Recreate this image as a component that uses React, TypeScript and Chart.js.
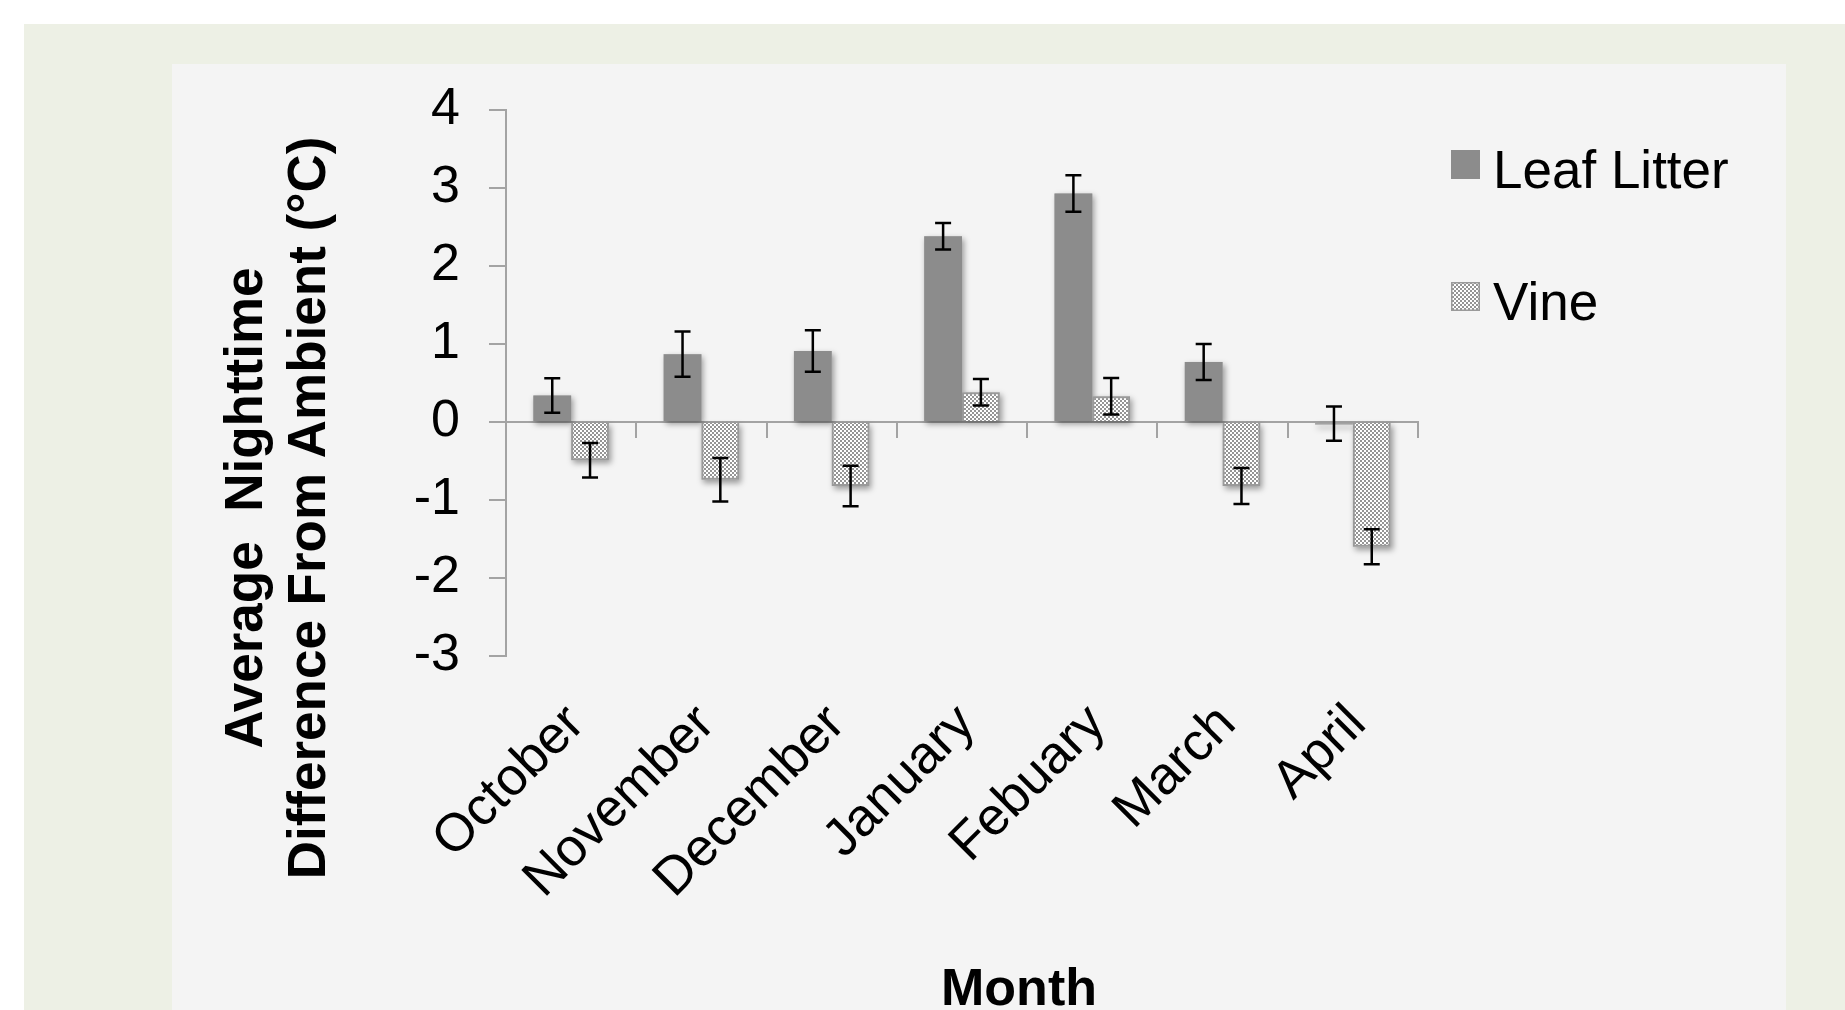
import React, { useEffect, useRef } from 'react';
import { Chart, registerables } from 'chart.js';

Chart.register(...registerables);

// ---- data ----
const months = ['October', 'November', 'December', 'January', 'Febuary', 'March', 'April'];
const leafLitter = [0.34, 0.87, 0.91, 2.38, 2.93, 0.77, -0.02];
const leafLitterErr = [0.22, 0.29, 0.265, 0.17, 0.235, 0.23, 0.22];
const vine = [-0.49, -0.74, -0.82, 0.38, 0.33, -0.82, -1.6];
const vineErr = [0.22, 0.28, 0.26, 0.17, 0.235, 0.23, 0.225];
const seriesNames = ['Leaf Litter', 'Vine'];
const yMin = -3;
const yMax = 4;
const yStep = 1;
const yTitleLines = ['Average  Nighttime', 'Difference From Ambient (°C)'];
const xTitle = 'Month';

const FONT = '"Liberation Sans", Arial, Helvetica, sans-serif';
const AXIS = '#a3a3a3';
const LEAF = '#8c8c8c';

function makeChecker(): CanvasPattern | string {
  const c = document.createElement('canvas');
  c.width = 4;
  c.height = 4;
  const g = c.getContext('2d');
  if (!g) return '#cfcfcf';
  g.fillStyle = '#ffffff';
  g.fillRect(0, 0, 4, 4);
  g.fillStyle = '#959595';
  g.fillRect(0, 0, 2, 2);
  g.fillRect(2, 2, 2, 2);
  return g.createPattern(c, 'repeat') || '#cfcfcf';
}

const barShadow = {
  id: 'barShadow',
  beforeDatasetsDraw(chart: any) {
    const ctx = chart.ctx;
    ctx.save();
    ctx.shadowColor = 'rgba(0,0,0,0.38)';
    ctx.shadowBlur = 6;
    ctx.shadowOffsetX = 2;
    ctx.shadowOffsetY = 3;
    ctx.fillStyle = '#bbbbbb';
    chart.data.datasets.forEach((_ds: any, i: number) => {
      const meta = chart.getDatasetMeta(i);
      meta.data.forEach((bar: any) => {
        const { x, y, base, width } = bar.getProps(['x', 'y', 'base', 'width'], true);
        const top = Math.min(y, base);
        const h = Math.max(Math.abs(base - y), 2);
        ctx.fillRect(x - width / 2, top, width, h);
      });
    });
    ctx.restore();
  },
};

const errorBars = {
  id: 'errorBars',
  afterDatasetsDraw(chart: any) {
    const ctx = chart.ctx;
    const ys = chart.scales.y;
    const errs = [leafLitterErr, vineErr];
    ctx.save();
    ctx.strokeStyle = '#000000';
    ctx.lineWidth = 2.5;
    chart.data.datasets.forEach((ds: any, i: number) => {
      const meta = chart.getDatasetMeta(i);
      meta.data.forEach((bar: any, j: number) => {
        const v = ds.data[j];
        const e = errs[i][j];
        const x = bar.x;
        const y1 = ys.getPixelForValue(v + e);
        const y2 = ys.getPixelForValue(v - e);
        ctx.beginPath();
        ctx.moveTo(x, y1);
        ctx.lineTo(x, y2);
        ctx.moveTo(x - 8, y1);
        ctx.lineTo(x + 8, y1);
        ctx.moveTo(x - 8, y2);
        ctx.lineTo(x + 8, y2);
        ctx.stroke();
      });
    });
    ctx.restore();
  },
};

const sideLegend = {
  id: 'sideLegend',
  afterDraw(chart: any) {
    const ctx = chart.ctx;
    const area = chart.chartArea;
    ctx.save();
    ctx.font = `53px ${FONT}`;
    ctx.textAlign = 'left';
    ctx.textBaseline = 'alphabetic';
    chart.data.datasets.forEach((ds: any, i: number) => {
      const bx = area.right + 33;
      const by = area.top + 40 + i * 132;
      ctx.fillStyle = ds.backgroundColor;
      ctx.fillRect(bx, by, 29, 29);
      if (ds.borderWidth) {
        ctx.strokeStyle = ds.borderColor;
        ctx.lineWidth = 1.5;
        ctx.strokeRect(bx + 0.75, by + 0.75, 27.5, 27.5);
      }
      ctx.fillStyle = '#000000';
      ctx.fillText(ds.label, bx + 42, by + 38);
    });
    ctx.restore();
  },
};

const axisTitles = {
  id: 'axisTitles',
  afterDraw(chart: any) {
    const ctx = chart.ctx;
    const area = chart.chartArea;
    ctx.save();
    ctx.fillStyle = '#000000';
    ctx.font = `bold 53px ${FONT}`;
    ctx.textAlign = 'center';
    ctx.textBaseline = 'alphabetic';
    const cy = area.top + 398;
    yTitleLines.forEach((line, k) => {
      ctx.save();
      ctx.translate(area.left - 244 + k * 63, cy);
      ctx.rotate(-Math.PI / 2);
      ctx.fillText(line, 0, 0);
      ctx.restore();
    });
    ctx.font = `bold 52px ${FONT}`;
    ctx.fillText(xTitle, area.left + 513, area.bottom + 349);
    ctx.restore();
  },
};

export default function App() {
  const ref = useRef<HTMLCanvasElement | null>(null);

  useEffect(() => {
    if (!ref.current) return;
    Chart.defaults.font.family = FONT;
    const pattern = makeChecker();
    const chart = new Chart(ref.current, {
      type: 'bar',
      data: {
        labels: months,
        datasets: [
          {
            label: seriesNames[0],
            data: leafLitter,
            backgroundColor: LEAF,
            borderWidth: 0,
            categoryPercentage: 0.58,
            barPercentage: 1,
          },
          {
            label: seriesNames[1],
            data: vine,
            backgroundColor: pattern as any,
            borderColor: '#9a9a9a',
            borderWidth: 2,
            categoryPercentage: 0.58,
            barPercentage: 1,
          },
        ],
      },
      options: {
        responsive: false,
        animation: false,
        events: [],
        layout: { padding: { top: 110, left: 0, right: 427, bottom: 0 } },
        plugins: {
          legend: { display: false },
          tooltip: { enabled: false },
          title: { display: false },
        },
        scales: {
          x: {
            position: 'bottom',
            grid: { display: false, drawTicks: false },
            border: { display: false },
            ticks: {
              font: { size: 53 },
              color: '#000000',
              minRotation: 45,
              maxRotation: 45,
              autoSkip: false,
              padding: 37,
              labelOffset: 5,
            },
            afterFit: (s: any) => {
              s.height = 354;
            },
          },
          x2: {
            type: 'category',
            axis: 'x',
            position: { y: 0 },
            labels: months,
            offset: true,
            grid: {
              offset: true,
              drawOnChartArea: false,
              drawTicks: true,
              tickLength: 15,
              color: AXIS,
              lineWidth: 2,
            },
            border: { display: true, color: AXIS, width: 2 },
            ticks: { display: false },
          },
          y: {
            min: yMin,
            max: yMax,
            ticks: {
              stepSize: yStep,
              font: { size: 52 },
              color: '#000000',
              padding: 29,
            },
            grid: {
              drawOnChartArea: false,
              drawTicks: true,
              tickLength: 17,
              color: AXIS,
              lineWidth: 2,
            },
            border: { display: true, color: AXIS, width: 2 },
            afterFit: (s: any) => {
              s.width = 506;
            },
          },
        } as any,
      },
      plugins: [barShadow, errorBars, sideLegend, axisTitles],
    });
    return () => chart.destroy();
  }, []);

  return (
    <div
      style={{
        position: 'fixed',
        left: 0,
        top: 0,
        width: 1845,
        height: 1010,
        background: '#ffffff',
        overflow: 'hidden',
      }}
    >
      <div
        style={{
          position: 'absolute',
          left: 24,
          top: 24,
          right: 0,
          bottom: 0,
          background: '#edf0e5',
        }}
      />
      <div
        style={{
          position: 'absolute',
          left: 172,
          top: 64,
          width: 1614,
          bottom: 0,
          background: '#f4f4f4',
        }}
      />
      <canvas
        ref={ref}
        width={1845}
        height={1010}
        style={{ position: 'absolute', left: 0, top: 0, width: 1845, height: 1010 }}
      />
    </div>
  );
}
